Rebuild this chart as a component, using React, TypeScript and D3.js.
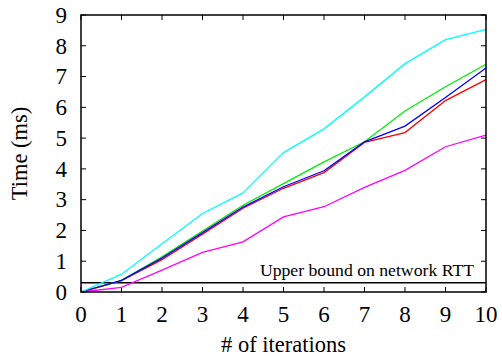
import React, { useEffect, useRef } from 'react';
import * as d3 from 'd3';

const iterations = [0, 1, 2, 3, 4, 5, 6, 7, 8, 9, 10];
const redSeries = [0, 0.37, 1.05, 1.88, 2.72, 3.37, 3.88, 4.86, 5.18, 6.22, 6.9];
const greenSeries = [0, 0.38, 1.14, 1.98, 2.82, 3.52, 4.23, 4.88, 5.88, 6.67, 7.4];
const blueSeries = [0, 0.38, 1.1, 1.93, 2.76, 3.42, 3.94, 4.88, 5.39, 6.32, 7.28];
const magentaSeries = [0, 0.15, 0.71, 1.29, 1.63, 2.44, 2.77, 3.4, 3.95, 4.72, 5.1];
const cyanSeries = [0, 0.58, 1.57, 2.55, 3.22, 4.53, 5.3, 6.34, 7.42, 8.2, 8.53];
const rttBound = 0.3;
const rttLabel = 'Upper bound on network RTT';
const xTicks = [0, 1, 2, 3, 4, 5, 6, 7, 8, 9, 10];
const yTicks = [0, 1, 2, 3, 4, 5, 6, 7, 8, 9];

const series = [
	{ name: 'red', color: '#ff0000', values: redSeries },
	{ name: 'green', color: '#00ee00', values: greenSeries },
	{ name: 'blue', color: '#0000ff', values: blueSeries },
	{ name: 'magenta', color: '#ff00ff', values: magentaSeries },
	{ name: 'cyan', color: '#00ffff', values: cyanSeries },
];

const App: React.FC = () => {
	const ref = useRef<SVGSVGElement>(null);

	const margin = { top: 15, right: 16, bottom: 64, left: 81 };
	const fullW = 502;
	const fullH = 356;
	const width = fullW - margin.left - margin.right;
	const height = fullH - margin.top - margin.bottom;

	useEffect(() => {
		if (!ref.current) return;
		const svg = d3.select(ref.current);
		svg.selectAll('*').remove();

		const font = '"Liberation Serif", "Times New Roman", serif';

		const x = d3.scaleLinear().domain([0, 10]).range([0, width]);
		const y = d3.scaleLinear().domain([0, 9]).range([height, 0]);

		const g = svg
			.append('g')
			.attr('transform', `translate(${margin.left},${margin.top})`);

		// --- ticks (inward, mirrored on all sides) ---
		const tickLen = 5;
		const tickG = g.append('g').attr('stroke', '#000').attr('stroke-width', 1);
		xTicks.forEach((t) => {
			tickG.append('line').attr('x1', x(t)).attr('x2', x(t)).attr('y1', height).attr('y2', height - tickLen);
			tickG.append('line').attr('x1', x(t)).attr('x2', x(t)).attr('y1', 0).attr('y2', tickLen);
		});
		yTicks.forEach((t) => {
			tickG.append('line').attr('x1', 0).attr('x2', tickLen).attr('y1', y(t)).attr('y2', y(t));
			tickG.append('line').attr('x1', width).attr('x2', width - tickLen).attr('y1', y(t)).attr('y2', y(t));
		});

		// tick labels
		g.append('g')
			.selectAll('text')
			.data(xTicks)
			.enter()
			.append('text')
			.attr('x', (d) => x(d))
			.attr('y', height + 30)
			.attr('text-anchor', 'middle')
			.style('font-family', font)
			.style('font-size', '23px')
			.text((d) => d);

		g.append('g')
			.selectAll('text')
			.data(yTicks)
			.enter()
			.append('text')
			.attr('x', -14)
			.attr('y', (d) => y(d))
			.attr('dy', '0.34em')
			.attr('text-anchor', 'end')
			.style('font-family', font)
			.style('font-size', '23px')
			.text((d) => d);

		// --- RTT bound ---
		g.append('line')
			.attr('x1', 0)
			.attr('x2', width)
			.attr('y1', y(rttBound))
			.attr('y2', y(rttBound))
			.attr('stroke', '#000')
			.attr('stroke-width', 1.3);

		g.append('text')
			.attr('x', width - 12)
			.attr('y', y(rttBound) - 7)
			.attr('text-anchor', 'end')
			.style('font-family', font)
			.style('font-size', '17.7px')
			.text(rttLabel);

		// --- lines ---
		const line = d3
			.line<number>()
			.x((_, i) => x(iterations[i]))
			.y((d) => y(d));

		g.append('g')
			.selectAll('path')
			.data(series)
			.enter()
			.append('path')
			.attr('d', (d) => line(d.values))
			.attr('fill', 'none')
			.attr('stroke', (d) => d.color)
			.attr('stroke-width', 1.3);

		// frame
		g.append('rect')
			.attr('width', width)
			.attr('height', height)
			.attr('fill', 'none')
			.attr('stroke', '#000')
			.attr('stroke-width', 1.5);

		// axis titles
		svg
			.append('text')
			.attr('x', margin.left + width / 2)
			.attr('y', fullH - 4)
			.attr('text-anchor', 'middle')
			.style('font-family', font)
			.style('font-size', '22.5px')
			.text('# of iterations');

		svg
			.append('text')
			.attr('transform', `translate(27, ${margin.top + height / 2}) rotate(-90)`)
			.attr('text-anchor', 'middle')
			.style('font-family', font)
			.style('font-size', '22.5px')
			.text('Time (ms)');
	}, []);

	return (
		<svg
			ref={ref}
			width={fullW}
			height={fullH}
			style={{ position: 'absolute', left: 0, top: 0, background: '#fff' }}
		/>
	);
};

export default App;
